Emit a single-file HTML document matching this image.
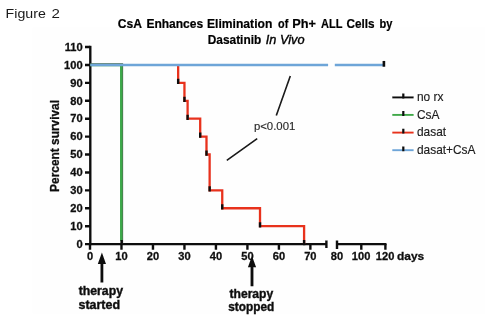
<!DOCTYPE html>
<html><head><meta charset="utf-8"><title>Figure 2</title>
<style>
html,body{margin:0;padding:0;background:#fff;}
body{width:497px;height:325px;overflow:hidden;}
svg{display:block;}
text{font-family:"Liberation Sans",sans-serif;}
.t{font-weight:bold;fill:#000;font-size:12px;stroke:#000;stroke-width:0.2px;}
.ti{font-style:italic;fill:#000;font-size:12px;stroke:#000;stroke-width:0.35px;}
.ax{font-size:11.1px;font-weight:bold;fill:#111;stroke:#111;stroke-width:0.3px;}
.lg{font-size:11.9px;fill:#1c1c1c;stroke:#1c1c1c;stroke-width:0.15px;}
.an{font-size:12.1px;font-weight:bold;fill:#111;stroke:#111;stroke-width:0.4px;}
</style></head><body>
<svg width="497" height="325" viewBox="0 0 497 325">
<rect width="497" height="325" fill="#fff"/>
<rect x="32.5" y="27.5" width="452.5" height="286" fill="#fefefe"/>
<text x="5.6" y="17.8" font-size="12.6" fill="#1a1a1a" textLength="40.2" lengthAdjust="spacingAndGlyphs">Figure</text>
<text x="51.6" y="17.8" font-size="12.6" fill="#1a1a1a" textLength="8.4" lengthAdjust="spacingAndGlyphs">2</text>
<text class="t" x="117.8" y="27.9" textLength="24.2" lengthAdjust="spacingAndGlyphs">CsA</text>
<text class="t" x="146.4" y="27.9" textLength="56.8" lengthAdjust="spacingAndGlyphs">Enhances</text>
<text class="t" x="207" y="27.9" textLength="65.3" lengthAdjust="spacingAndGlyphs">Elimination</text>
<text class="t" x="278.1" y="27.9" textLength="10.2" lengthAdjust="spacingAndGlyphs">of</text>
<text class="t" x="292.3" y="27.9" textLength="23.7" lengthAdjust="spacingAndGlyphs">Ph+</text>
<text class="t" x="321.1" y="27.9" textLength="21.4" lengthAdjust="spacingAndGlyphs">ALL</text>
<text class="t" x="346.5" y="27.9" textLength="28.1" lengthAdjust="spacingAndGlyphs">Cells</text>
<text class="t" x="379.5" y="27.9" textLength="12.9" lengthAdjust="spacingAndGlyphs">by</text>
<text class="t" x="207.8" y="43.9" textLength="53.4" lengthAdjust="spacingAndGlyphs">Dasatinib</text>
<text class="ti" x="265.8" y="43.9" textLength="38.8" lengthAdjust="spacingAndGlyphs">In Vivo</text>
<defs><filter id="bl" x="0" y="0" width="497" height="325" filterUnits="userSpaceOnUse"><feGaussianBlur stdDeviation="0.42"/></filter></defs>
<g filter="url(#bl)">
<g stroke="#111" stroke-width="2.4" fill="none">
<path d="M90.3 45.83V245.29999999999998"/>
<path d="M85.0 244.1H326.4M337 244.1H386.5"/>
<path d="M326.4 240.4V248M337 240.4V249.1"/>
<path d="M85.0 226.19H90.3M85.0 208.27H90.3M85.0 190.35H90.3M85.0 172.44H90.3M85.0 154.52H90.3M85.0 136.61H90.3M85.0 118.69H90.3M85.0 100.78H90.3M85.0 82.86H90.3M85.0 64.95H90.3M85.0 47.03H90.3"/>
<path d="M90.0 244.1V249.7M121.48 244.1V249.7M152.97 244.1V249.7M184.45 244.1V249.7M215.94 244.1V249.7M247.42 244.1V249.7M278.91 244.1V249.7M310.39 244.1V249.7M361.3 244.1V249.7M385.4 244.1V249.7"/>
</g>
<g class="ax" text-anchor="end">
<text x="82.6" y="247.85">0</text>
<text x="82.6" y="229.94">10</text>
<text x="82.6" y="212.02">20</text>
<text x="82.6" y="194.1">30</text>
<text x="82.6" y="176.19">40</text>
<text x="82.6" y="158.27">50</text>
<text x="82.6" y="140.36">60</text>
<text x="82.6" y="122.44">70</text>
<text x="82.6" y="104.53">80</text>
<text x="82.6" y="86.61">90</text>
<text x="82.6" y="68.7">100</text>
<text x="82.6" y="50.78">110</text>
</g>
<g class="ax" text-anchor="middle">
<text x="90.0" y="259.6">0</text>
<text x="121.48" y="259.6">10</text>
<text x="152.97" y="259.6">20</text>
<text x="184.45" y="259.6">30</text>
<text x="215.94" y="259.6">40</text>
<text x="247.42" y="259.6">50</text>
<text x="278.91" y="259.6">60</text>
<text x="310.39" y="259.6">70</text>
<text x="336.9" y="259.6">80</text>
<text x="361.1" y="259.6">100</text>
<text x="385.1" y="259.6">120</text>
</g>
<text class="ax" x="397" y="259.70000000000005" style="font-size:11.7px" textLength="27.2" lengthAdjust="spacingAndGlyphs">days</text>
<text class="ax" style="font-size:11.9px" transform="translate(59 191.9) rotate(-90)">Percent survival</text>
<g fill="none" stroke-width="2.4">
<path d="M90.3 64.55H121.93V244.1" stroke="#555"/>
<path d="M90.3 64.95H121.33V241.1" stroke="#3da84a" stroke-width="2.6"/>
<path d="M178.16 64.95H178.16V82.86H184.45V100.78H187.6V118.69H200.2V136.61H206.49V154.52H209.64V190.35H222.24V208.27H260.02V226.19H304.1V244.1" stroke="#e8331f" stroke-width="2.3"/>
<path d="M90.3 64.95H328.1M334.8 64.95H383.4" stroke="#6ea5d8" stroke-width="2.6"/>
</g>
<g stroke="#111" stroke-width="2.4" fill="none">
<path d="M178.16 78.86V84.06M184.45 96.78V101.98M187.6 114.69V119.89M200.2 132.61V137.81M206.49 150.52V155.72M209.64 186.35V191.54999999999998M222.24 204.27V209.47M260.02 222.19V227.39M304.1 240.1V245.29999999999998M121.68 240.1V244.1"/>
<path d="M383.9 60.95V66.75" stroke-width="2.6"/>
</g>
<g stroke="#1a1a1a" stroke-width="1.6" fill="none"><path d="M290.3 75.9L276.3 115.4M257.2 138.6L226.8 160.3"/></g>
<text x="253.9" y="129.9" font-size="11.3" fill="#2a2a2a" stroke="#2a2a2a" stroke-width="0.15" textLength="41.4" lengthAdjust="spacingAndGlyphs">p&lt;0.001</text>
<g fill="none" stroke-width="1.9">
<path d="M392.3 97.4H413.6" stroke="#111"/>
<path d="M392.3 114.9H413.6" stroke="#3fa94a"/>
<path d="M392.3 132.6H413.6" stroke="#e8331f"/>
<path d="M392.3 150.2H413.6" stroke="#6ea5d8"/>
<path d="M403.3 93.6V98.4M403.3 111.1V115.9M403.3 128.8V133.6M403.3 146.4V151.2" stroke="#111" stroke-width="2.2"/>
</g>
<g class="lg">
<text x="417" y="100.8">no rx</text>
<text x="417" y="118.7">CsA</text>
<text x="417" y="136.3">dasat</text>
<text x="417" y="153.5">dasat+CsA</text>
</g>
<g fill="#111" stroke="none">
<path d="M101.9 252.6L106 264H103.3V282.4H100.5V264H97.8Z"/>
<path d="M252 256L256.1 267.3H253.4V286.3H250.6V267.3H247.9Z"/>
</g>
<g class="an">
<text x="78.7" y="294.9" textLength="44.3" lengthAdjust="spacingAndGlyphs">therapy</text>
<text x="78.5" y="309.4" textLength="41.5" lengthAdjust="spacingAndGlyphs">started</text>
<text x="229.5" y="297.6">therapy</text>
<text x="228.2" y="310.7" textLength="46" lengthAdjust="spacingAndGlyphs">stopped</text>
</g>
</g>
</svg>
</body></html>
